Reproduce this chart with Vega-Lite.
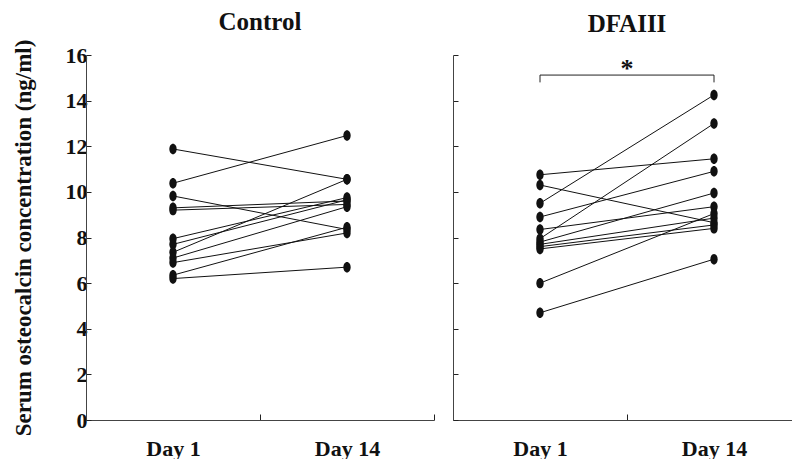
{
  "$schema": "https://vega.github.io/schema/vega-lite/v6.json",
  "padding": {"left": 12, "top": 10, "right": 0, "bottom": 0},
  "spacing": 17,
  "config": {
    "view": {"stroke": null},
    "font": "Liberation Serif",
    "axis": {
      "grid": false,
      "domainColor": "#444",
      "tickColor": "#222",
      "labelFont": "Liberation Serif",
      "labelFontWeight": "bold",
      "labelFontSize": 22,
      "labelColor": "#111",
      "titleFont": "Liberation Serif",
      "titleFontWeight": "bold",
      "titleColor": "#111"
    },
    "title": {"font": "Liberation Serif", "fontWeight": "bold", "fontSize": 25, "color": "#111"}
  },
  "datasets": {
    "obs": [
      {"group": "Control", "subject": 1, "day": "Day 1", "value": 11.88},
      {"group": "Control", "subject": 1, "day": "Day 14", "value": 10.55},
      {"group": "Control", "subject": 2, "day": "Day 1", "value": 10.38},
      {"group": "Control", "subject": 2, "day": "Day 14", "value": 12.47},
      {"group": "Control", "subject": 3, "day": "Day 1", "value": 9.82},
      {"group": "Control", "subject": 3, "day": "Day 14", "value": 8.35},
      {"group": "Control", "subject": 4, "day": "Day 1", "value": 9.3},
      {"group": "Control", "subject": 4, "day": "Day 14", "value": 9.6},
      {"group": "Control", "subject": 5, "day": "Day 1", "value": 9.2},
      {"group": "Control", "subject": 5, "day": "Day 14", "value": 9.45},
      {"group": "Control", "subject": 6, "day": "Day 1", "value": 7.95},
      {"group": "Control", "subject": 6, "day": "Day 14", "value": 9.75},
      {"group": "Control", "subject": 7, "day": "Day 1", "value": 7.7},
      {"group": "Control", "subject": 7, "day": "Day 14", "value": 9.65},
      {"group": "Control", "subject": 8, "day": "Day 1", "value": 7.35},
      {"group": "Control", "subject": 8, "day": "Day 14", "value": 10.55},
      {"group": "Control", "subject": 9, "day": "Day 1", "value": 7.1},
      {"group": "Control", "subject": 9, "day": "Day 14", "value": 9.35},
      {"group": "Control", "subject": 10, "day": "Day 1", "value": 6.9},
      {"group": "Control", "subject": 10, "day": "Day 14", "value": 8.2},
      {"group": "Control", "subject": 11, "day": "Day 1", "value": 6.35},
      {"group": "Control", "subject": 11, "day": "Day 14", "value": 8.45},
      {"group": "Control", "subject": 12, "day": "Day 1", "value": 6.2},
      {"group": "Control", "subject": 12, "day": "Day 14", "value": 6.7},
      {"group": "DFAIII", "subject": 1, "day": "Day 1", "value": 10.75},
      {"group": "DFAIII", "subject": 1, "day": "Day 14", "value": 11.45},
      {"group": "DFAIII", "subject": 2, "day": "Day 1", "value": 10.3},
      {"group": "DFAIII", "subject": 2, "day": "Day 14", "value": 8.65},
      {"group": "DFAIII", "subject": 3, "day": "Day 1", "value": 9.5},
      {"group": "DFAIII", "subject": 3, "day": "Day 14", "value": 14.25},
      {"group": "DFAIII", "subject": 4, "day": "Day 1", "value": 8.9},
      {"group": "DFAIII", "subject": 4, "day": "Day 14", "value": 10.9},
      {"group": "DFAIII", "subject": 5, "day": "Day 1", "value": 8.35},
      {"group": "DFAIII", "subject": 5, "day": "Day 14", "value": 9.35},
      {"group": "DFAIII", "subject": 6, "day": "Day 1", "value": 7.95},
      {"group": "DFAIII", "subject": 6, "day": "Day 14", "value": 13.0},
      {"group": "DFAIII", "subject": 7, "day": "Day 1", "value": 7.8},
      {"group": "DFAIII", "subject": 7, "day": "Day 14", "value": 9.95},
      {"group": "DFAIII", "subject": 8, "day": "Day 1", "value": 7.7},
      {"group": "DFAIII", "subject": 8, "day": "Day 14", "value": 8.85},
      {"group": "DFAIII", "subject": 9, "day": "Day 1", "value": 7.6},
      {"group": "DFAIII", "subject": 9, "day": "Day 14", "value": 8.55},
      {"group": "DFAIII", "subject": 10, "day": "Day 1", "value": 7.5},
      {"group": "DFAIII", "subject": 10, "day": "Day 14", "value": 8.4},
      {"group": "DFAIII", "subject": 11, "day": "Day 1", "value": 6.0},
      {"group": "DFAIII", "subject": 11, "day": "Day 14", "value": 9.05},
      {"group": "DFAIII", "subject": 12, "day": "Day 1", "value": 4.7},
      {"group": "DFAIII", "subject": 12, "day": "Day 14", "value": 7.05}
    ],
    "sig": [
      {"from": "Day 1", "to": "Day 14", "top": 15.12, "low": 14.8, "star": 15.4, "label": "*"}
    ]
  },
  "hconcat": [
    {
      "width": 348,
      "height": 365,
      "title": {"text": "Control", "offset": 4},
      "data": {"name": "obs"},
      "transform": [{"filter": "datum.group === 'Control'"}],
      "encoding": {
        "x": {
          "field": "day", "type": "nominal",
          "scale": {"type": "band", "paddingInner": 0, "paddingOuter": 0},
          "axis": {"title": null, "labelAngle": 0, "tickBand": "extent", "tickSize": -6, "labelPadding": 24}
        },
        "y": {
          "field": "value", "type": "quantitative",
          "scale": {"domain": [0, 16], "nice": false},
          "axis": {"values": [0, 2, 4, 6, 8, 10, 12, 14, 16], "tickSize": -5, "labelPadding": 4,
                   "title": "Serum osteocalcin concentration (ng/ml)", "titleFontSize": 23, "titlePadding": 30}
        }
      },
      "layer": [
        {"mark": {"type": "line", "color": "#111", "strokeWidth": 1}, "encoding": {"detail": {"field": "subject"}}},
        {"mark": {"type": "point", "filled": true, "color": "#111", "opacity": 1, "size": 110,
                  "shape": "M -0.7 0 A 0.7 1 0 1 0 0.7 0 A 0.7 1 0 1 0 -0.7 0 Z"}}
      ]
    },
    {
      "width": 348,
      "height": 365,
      "title": {"text": "DFAIII", "offset": 18},
      "layer": [
        {
          "data": {"name": "obs"},
          "transform": [{"filter": "datum.group === 'DFAIII'"}],
          "mark": {"type": "line", "color": "#111", "strokeWidth": 1},
          "encoding": {
            "x": {
              "field": "day", "type": "nominal",
              "scale": {"type": "band", "paddingInner": 0, "paddingOuter": 0},
              "axis": {"title": null, "labelAngle": 0, "tickBand": "extent", "tickSize": -6, "labelPadding": 24}
            },
            "y": {
              "field": "value", "type": "quantitative",
              "scale": {"domain": [0, 16], "nice": false},
              "axis": {"values": [0, 2, 4, 6, 8, 10, 12, 14, 16], "tickSize": -5, "labels": false, "title": null}
            },
            "detail": {"field": "subject"}
          }
        },
        {
          "data": {"name": "obs"},
          "transform": [{"filter": "datum.group === 'DFAIII'"}],
          "mark": {"type": "point", "filled": true, "color": "#111", "opacity": 1, "size": 110,
                   "shape": "M -0.7 0 A 0.7 1 0 1 0 0.7 0 A 0.7 1 0 1 0 -0.7 0 Z"},
          "encoding": {
            "x": {"field": "day", "type": "nominal"},
            "y": {"field": "value", "type": "quantitative"}
          }
        },
        {
          "data": {"name": "sig"},
          "mark": {"type": "rule", "color": "#222", "strokeWidth": 1},
          "encoding": {
            "x": {"field": "from", "type": "nominal"},
            "x2": {"field": "to"},
            "y": {"field": "top", "type": "quantitative"}
          }
        },
        {
          "data": {"name": "sig"},
          "mark": {"type": "rule", "color": "#222", "strokeWidth": 1},
          "encoding": {
            "x": {"field": "from", "type": "nominal"},
            "y": {"field": "top", "type": "quantitative"},
            "y2": {"field": "low"}
          }
        },
        {
          "data": {"name": "sig"},
          "mark": {"type": "rule", "color": "#222", "strokeWidth": 1},
          "encoding": {
            "x": {"field": "to", "type": "nominal"},
            "y": {"field": "top", "type": "quantitative"},
            "y2": {"field": "low"}
          }
        },
        {
          "data": {"name": "sig"},
          "mark": {"type": "text", "font": "Liberation Serif", "fontWeight": "bold", "fontSize": 26, "color": "#111", "baseline": "middle"},
          "encoding": {
            "x": {"field": "from", "type": "nominal", "bandPosition": 1},
            "y": {"field": "star", "type": "quantitative"},
            "text": {"field": "label"}
          }
        }
      ]
    }
  ]
}
